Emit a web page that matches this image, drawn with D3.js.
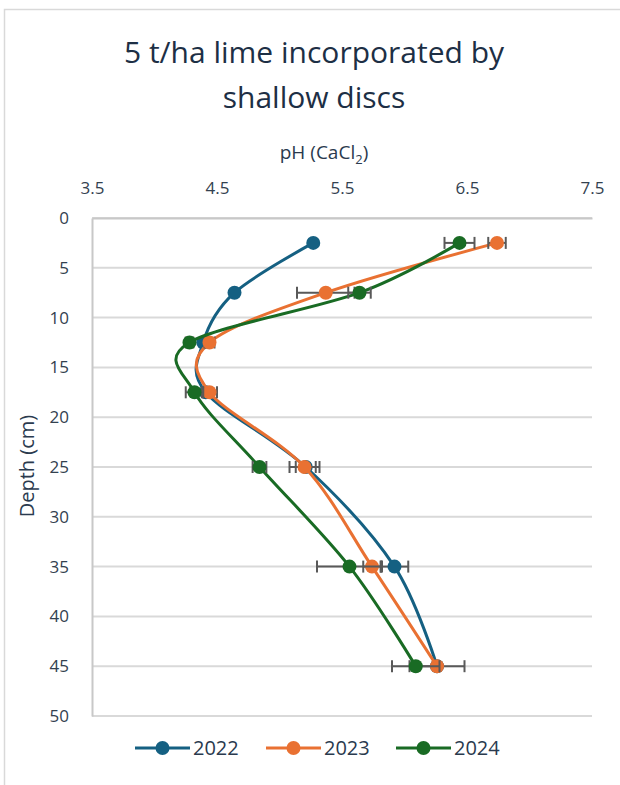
<!DOCTYPE html>
<html>
<head>
<meta charset="utf-8">
<script src="https://cdn.jsdelivr.net/npm/d3@7"></script>
<style>
  html, body { margin: 0; padding: 0; background: #fff; }
  svg { display: block; }
  text { font-family: "Open Sans", "Noto Sans", sans-serif; }
</style>
</head>
<body>
<svg id="chart" width="620" height="785"></svg>
<script>
// Sampling depths (cm) and pH (CaCl2) profile for each year
const depths = [2.5, 7.5, 12.5, 17.5, 25, 35, 45];
const years = ["2022", "2023", "2024"];
const ph2022 = [5.27, 4.64, 4.39, 4.41, 5.21, 5.92, 6.26];
const ph2023 = [6.74, 5.37, 4.44, 4.44, 5.20, 5.74, 6.26];
const ph2024 = [6.44, 5.64, 4.28, 4.32, 4.84, 5.56, 6.09];
// Standard errors drawn as horizontal bars
const err2022 = [0, 0, 0, 0, 0.08, 0.11, 0];
const err2023 = [0.07, 0.23, 0.04, 0.06, 0.12, 0.07, 0.22];
const err2024 = [0.12, 0.09, 0.03, 0.07, 0.055, 0.26, 0.19];
const colors = ["#156082", "#e97132", "#196b24"];
const xTicks = [3.5, 4.5, 5.5, 6.5, 7.5];
const yTicks = [0, 5, 10, 15, 20, 25, 30, 35, 40, 45, 50];

const series = [
  { name: years[0], ph: ph2022, err: err2022, color: colors[0] },
  { name: years[1], ph: ph2023, err: err2023, color: colors[1] },
  { name: years[2], ph: ph2024, err: err2024, color: colors[2] }
];

const svg = d3.select("#chart");
const plotLeft = 92, plotRight = 592, plotTop = 218, plotBottom = 716;

// chart border
svg.append("rect")
  .attr("x", 4.5).attr("y", 9.5).attr("width", 640).attr("height", 800)
  .attr("fill", "none").attr("stroke", "#d9d9d9").attr("stroke-width", 1.5);

const x = d3.scaleLinear().domain([3.5, 7.5]).range([plotLeft, plotRight]);
const y = d3.scaleLinear().domain([0, 50]).range([plotTop, plotBottom]);

// title
const title = svg.append("text")
  .attr("text-anchor", "middle")
  .attr("fill", "#1d2f45")
  .style("font-size", "30px");
title.append("tspan").attr("x", 314).attr("y", 63).text("5 t/ha lime incorporated by");
title.append("tspan").attr("x", 314).attr("y", 108).text("shallow discs");

// x-axis title with subscript
const xt = svg.append("text")
  .attr("x", 324).attr("y", 159)
  .attr("text-anchor", "middle")
  .attr("fill", "#2a3a4e")
  .style("font-size", "19px");
xt.append("tspan").text("pH (CaCl");
xt.append("tspan").attr("dy", 5).style("font-size", "13px").text("2");
xt.append("tspan").attr("dy", -5).text(")");

// y-axis title
svg.append("text")
  .attr("transform", "translate(34,466) rotate(-90)")
  .attr("text-anchor", "middle")
  .attr("fill", "#2a3a4e")
  .style("font-size", "20px")
  .text("Depth (cm)");

// horizontal gridlines
svg.append("g").selectAll("line").data(yTicks).join("line")
  .attr("x1", plotLeft).attr("x2", plotRight)
  .attr("y1", d => y(d)).attr("y2", d => y(d))
  .attr("stroke", "#d9d9d9").attr("stroke-width", 2);

// top (pH) axis
const xAxis = svg.append("g")
  .attr("transform", `translate(0,${plotTop})`)
  .call(d3.axisTop(x).tickValues(xTicks).tickFormat(d3.format(".1f")).tickSize(0).tickPadding(24));
xAxis.select(".domain").attr("stroke", "#c8c8c8").attr("stroke-width", 2);
xAxis.selectAll("text").attr("fill", "#33414f").style("font-size", "17px")
  .style("font-family", "'Open Sans', sans-serif");

// left (depth) axis
const yAxis = svg.append("g")
  .attr("transform", `translate(${plotLeft},0)`)
  .call(d3.axisLeft(y).tickValues(yTicks).tickSize(0).tickPadding(23));
yAxis.select(".domain").attr("stroke", "#c8c8c8").attr("stroke-width", 2);
yAxis.selectAll("text").attr("fill", "#33414f").style("font-size", "17px")
  .style("font-family", "'Open Sans', sans-serif");

// series lines
const line = d3.line()
  .x(d => x(d.ph)).y(d => y(d.depth))
  .curve(d3.curveCatmullRom.alpha(0));

series.forEach(s => {
  const pts = depths.map((d, i) => ({ depth: d, ph: s.ph[i], err: s.err[i] }));
  const g = svg.append("g");
  g.append("path").datum(pts)
    .attr("d", line).attr("fill", "none")
    .attr("stroke", s.color).attr("stroke-width", 3);
  s.pts = pts;
  s.g = g;
});

// error bars
series.forEach(s => {
  const eb = s.g.append("g").attr("stroke", "#595959").attr("stroke-width", 2);
  s.pts.filter(p => p.err > 0).forEach(p => {
    const cy = y(p.depth);
    eb.append("line").attr("x1", x(p.ph - p.err)).attr("x2", x(p.ph + p.err))
      .attr("y1", cy).attr("y2", cy);
    [p.ph - p.err, p.ph + p.err].forEach(v => {
      eb.append("line").attr("x1", x(v)).attr("x2", x(v))
        .attr("y1", cy - 6).attr("y2", cy + 6);
    });
  });
});

// markers
series.forEach(s => {
  s.g.append("g").selectAll("circle").data(s.pts).join("circle")
    .attr("cx", d => x(d.ph)).attr("cy", d => y(d.depth)).attr("r", 7)
    .attr("fill", s.color);
});

// legend
const legend = svg.append("g").attr("transform", "translate(135,748)");
const legendX = [0, 131, 261];
series.forEach((s, i) => {
  const lg = legend.append("g").attr("transform", `translate(${legendX[i]},0)`);
  lg.append("line").attr("x1", 0).attr("x2", 55).attr("y1", 0).attr("y2", 0)
    .attr("stroke", s.color).attr("stroke-width", 3);
  lg.append("circle").attr("cx", 27.5).attr("cy", 0).attr("r", 7).attr("fill", s.color);
  lg.append("text").attr("x", 58).attr("y", 7)
    .attr("fill", "#2a3a4e").style("font-size", "20px").text(s.name);
});
</script>
</body>
</html>
